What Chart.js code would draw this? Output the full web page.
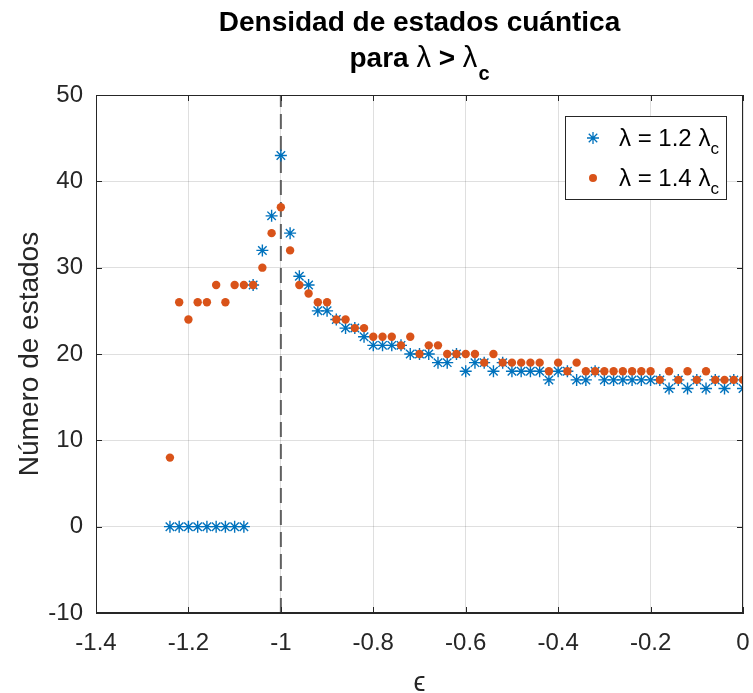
<!DOCTYPE html>
<html>
<head>
<meta charset="utf-8">
<script src="https://cdn.jsdelivr.net/npm/chart.js@4.4.1/dist/chart.umd.min.js"></script>
<style>
  html, body { margin: 0; padding: 0; background: #fff; overflow: hidden; }
  #wrap { width: 753px; height: 693px; }
  #densChart { display: block; }
</style>
</head>
<body>
<div id="wrap"><canvas id="densChart" width="753" height="693"></canvas></div>
<script>
// Energies (epsilon) and number of states
const energias = [
    -1.24, -1.22, -1.20, -1.18, -1.16, -1.14, -1.12, -1.10, -1.08, -1.06,
    -1.04, -1.02, -1.00, -0.98, -0.96, -0.94, -0.92, -0.90, -0.88, -0.86,
    -0.84, -0.82, -0.80, -0.78, -0.76, -0.74, -0.72, -0.70, -0.68, -0.66,
    -0.64, -0.62, -0.60, -0.58, -0.56, -0.54, -0.52, -0.50, -0.48, -0.46,
    -0.44, -0.42, -0.40, -0.38, -0.36, -0.34, -0.32, -0.30, -0.28, -0.26,
    -0.24, -0.22, -0.20, -0.18, -0.16, -0.14, -0.12, -0.10, -0.08, -0.06,
    -0.04, -0.02, 0.00
];
const estados12 = [
    0, 0, 0, 0, 0, 0, 0, 0, 0, 28,
    32, 36, 43, 34, 29, 28, 25, 25, 24, 23,
    23, 22, 21, 21, 21, 21, 20, 20, 20, 19,
    19, 20, 18, 19, 19, 18, 19, 18, 18, 18,
    18, 17, 18, 18, 17, 17, 18, 17, 17, 17,
    17, 17, 17, 17, 16, 17, 16, 17, 16, 17,
    16, 17, 16
];
const estados14 = [
    8, 26, 24, 26, 26, 28, 26, 28, 28, 28,
    30, 34, 37, 32, 28, 27, 26, 26, 24, 24,
    23, 23, 22, 22, 22, 21, 22, 20, 21, 21,
    20, 20, 20, 20, 19, 20, 19, 19, 19, 19,
    19, 18, 19, 18, 19, 18, 18, 18, 18, 18,
    18, 18, 18, 17, 18, 17, 18, 17, 18, 17,
    17, 17, 17
];
const lambdaCritico = -1;
const xTicks = [-1.4, -1.2, -1, -0.8, -0.6, -0.4, -0.2, 0];
const yTicks = [-10, 0, 10, 20, 30, 40, 50];

const AZUL = '#0072BD';
const NARANJA = '#D95319';
const EJE = '#262626';
const FAMILIA = '"Liberation Sans", Arial, sans-serif';

Chart.defaults.font.family = FAMILIA;
Chart.defaults.color = EJE;

// draw a row of text pieces (for subscripts), centered or left aligned
function drawRuns(ctx, runs, x, baseline, align) {
    let total = 0;
    runs.forEach(r => { ctx.font = r.font; total += ctx.measureText(r.t).width; });
    let cx = align === 'center' ? x - total / 2 : x;
    ctx.textAlign = 'left';
    ctx.textBaseline = 'alphabetic';
    runs.forEach(r => {
        ctx.font = r.font;
        ctx.fillText(r.t, cx, baseline + (r.dy || 0));
        cx += ctx.measureText(r.t).width;
    });
}

function drawStar(ctx, x, y, r) {
    ctx.beginPath();
    ctx.moveTo(x - r, y); ctx.lineTo(x + r, y);
    ctx.moveTo(x, y - r); ctx.lineTo(x, y + r);
    const d = r * Math.SQRT1_2;
    ctx.moveTo(x - d, y - d); ctx.lineTo(x + d, y + d);
    ctx.moveTo(x - d, y + d); ctx.lineTo(x + d, y - d);
    ctx.stroke();
}

const matlabPlugin = {
    id: 'matlabBox',
    afterDraw(chart) {
        const ctx = chart.ctx;
        const a = chart.chartArea;
        const xs = chart.scales.x, ys = chart.scales.y;
        ctx.save();

        // frame and inward ticks
        ctx.strokeStyle = EJE;
        ctx.lineWidth = 1;
        ctx.strokeRect(Math.round(a.left) + 0.5, Math.round(a.top) + 0.5,
            Math.round(a.right - a.left) - 1, Math.round(a.bottom - a.top) - 1);
        ctx.beginPath();
        xTicks.forEach(v => {
            const px = Math.round(xs.getPixelForValue(v)) + 0.5;
            ctx.moveTo(px, a.bottom); ctx.lineTo(px, a.bottom - 6);
            ctx.moveTo(px, a.top); ctx.lineTo(px, a.top + 6);
        });
        yTicks.forEach(v => {
            const py = Math.round(ys.getPixelForValue(v)) + 0.5;
            ctx.moveTo(a.left, py); ctx.lineTo(a.left + 6, py);
            ctx.moveTo(a.right, py); ctx.lineTo(a.right - 6, py);
        });
        ctx.stroke();

        // title
        ctx.fillStyle = '#000';
        const cx = (a.left + a.right) / 2;
        const bold = 'bold 28px ' + FAMILIA;
        const lam = '29px ' + FAMILIA;
        drawRuns(ctx, [{ t: 'Densidad de estados cuántica', font: bold }], cx, 31, 'center');
        drawRuns(ctx, [
            { t: 'para ', font: bold },
            { t: 'λ', font: lam },
            { t: ' > ', font: bold },
            { t: 'λ', font: lam },
            { t: ' ', font: '4px ' + FAMILIA },
            { t: 'c', font: 'bold 20px ' + FAMILIA, dy: 13 }
        ], cx, 67, 'center');

        // legend
        const lx = 565, ly = 116, lw = 161, lh = 83;
        ctx.fillStyle = '#fff';
        ctx.fillRect(lx, ly, lw, lh);
        ctx.strokeStyle = EJE;
        ctx.strokeRect(lx + 0.5, ly + 0.5, lw, lh);
        ctx.strokeStyle = AZUL;
        ctx.lineWidth = 1.3;
        drawStar(ctx, 593, 138, 6);
        ctx.fillStyle = NARANJA;
        ctx.beginPath();
        ctx.arc(593, 178, 4, 0, Math.PI * 2);
        ctx.fill();
        ctx.fillStyle = '#000';
        const lf = '24px ' + FAMILIA;
        const sub = '17px ' + FAMILIA;
        drawRuns(ctx, [{ t: 'λ = 1.2 λ', font: lf }, { t: 'c', font: sub, dy: 8 }], 619, 146, 'left');
        drawRuns(ctx, [{ t: 'λ = 1.4 λ', font: lf }, { t: 'c', font: sub, dy: 8 }], 619, 186, 'left');

        ctx.restore();
    }
};

function puntos(ys) {
    return energias.map((e, i) => ({ x: e, y: ys[i] }));
}

new Chart(document.getElementById('densChart'), {
    type: 'scatter',
    data: {
        datasets: [
            {
                label: 'λ = 1.2 λc',
                data: puntos(estados12),
                pointStyle: 'star',
                pointRadius: 6,
                pointHoverRadius: 6,
                borderColor: AZUL,
                backgroundColor: AZUL,
                borderWidth: 1.4,
                order: 2
            },
            {
                label: 'λ = 1.4 λc',
                data: puntos(estados14),
                pointStyle: 'circle',
                pointRadius: 4.2,
                pointHoverRadius: 4.2,
                borderWidth: 0,
                borderColor: NARANJA,
                backgroundColor: NARANJA,
                order: 1
            },
            {
                type: 'line',
                label: 'critico',
                data: [{ x: lambdaCritico, y: yTicks[0] }, { x: lambdaCritico, y: yTicks[yTicks.length - 1] }],
                borderColor: '#606060',
                borderWidth: 2,
                borderDash: [15, 7],
                pointRadius: 0,
                fill: false,
                order: 3
            }
        ]
    },
    options: {
        responsive: false,
        animation: false,
        events: [],
        layout: { autoPadding: false, padding: { top: 95, right: 10, left: 0, bottom: 0 } },
        plugins: {
            legend: { display: false },
            title: { display: false },
            tooltip: { enabled: false }
        },
        scales: {
            x: {
                type: 'linear',
                min: xTicks[0],
                max: xTicks[xTicks.length - 1],
                afterBuildTicks: s => { s.ticks = xTicks.map(v => ({ value: v })); },
                afterFit: s => { s.height = 80; s.paddingLeft = 0; s.paddingRight = 0; },
                ticks: {
                    padding: 16,
                    font: { size: 24 },
                    color: EJE,
                    maxRotation: 0,
                    callback: v => String(Math.round(v * 10) / 10)
                },
                grid: { color: 'rgba(38,38,38,0.15)', drawTicks: false },
                border: { display: true, color: EJE },
                title: { display: true, text: 'ϵ', font: { size: 27 }, color: EJE, padding: { top: 0, bottom: -7 } }
            },
            y: {
                type: 'linear',
                min: yTicks[0],
                max: yTicks[yTicks.length - 1],
                afterBuildTicks: s => { s.ticks = yTicks.map(v => ({ value: v })); },
                afterFit: s => { s.width = 96; s.paddingTop = 0; s.paddingBottom = 0; },
                ticks: {
                    padding: 13,
                    font: { size: 24 },
                    color: EJE
                },
                grid: { color: 'rgba(38,38,38,0.15)', drawTicks: false },
                border: { display: true, color: EJE },
                title: { display: true, text: 'Número de estados', font: { size: 28 }, color: EJE, padding: { top: 13, bottom: 0 } }
            }
        }
    },
    plugins: [matlabPlugin]
});
</script>
</body>
</html>
